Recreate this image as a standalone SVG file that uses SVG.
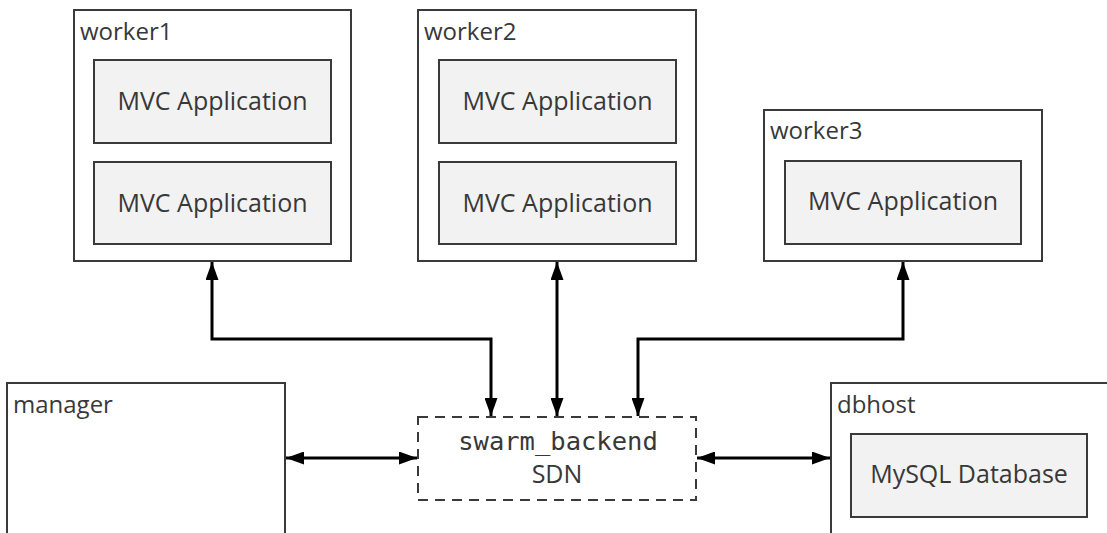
<svg xmlns="http://www.w3.org/2000/svg" width="1107" height="533" viewBox="0 0 1107 533">
<defs>
<style>
.host{fill:#fff;stroke:#3a3a3a;stroke-width:2}
.app{fill:#f2f2f2;stroke:#3a3a3a;stroke-width:2}
.lbl{font-family:"Open Sans","Noto Sans",sans-serif;font-size:24px;fill:#383838}
.app-t{font-family:"Open Sans","Noto Sans",sans-serif;font-size:25px;fill:#383838;text-anchor:middle}
.mono{font-family:"DejaVu Sans Mono",monospace;font-size:25.5px;fill:#383838;text-anchor:middle}
.conn{fill:none;stroke:#000;stroke-width:3}
</style>
<marker id="ah" viewBox="0 0 18 13" refX="18" refY="6.5" markerWidth="18" markerHeight="13" markerUnits="userSpaceOnUse" orient="auto-start-reverse">
<path d="M0,0 L18,6.5 L0,13 z" fill="#000"/>
</marker>
</defs>
<rect width="1107" height="533" fill="#fff"/>
<g id="worker1">
<rect class="host" x="74" y="10" width="277" height="251"/>
<text class="lbl" x="80" y="40">worker1</text>
<rect class="app" x="94" y="60" width="237" height="83"/>
<text class="app-t" x="212.5" y="110">MVC Application</text>
<rect class="app" x="94" y="162" width="237" height="82"/>
<text class="app-t" x="212.5" y="212">MVC Application</text>
</g>
<g id="worker2">
<rect class="host" x="418" y="10" width="278" height="251"/>
<text class="lbl" x="424" y="40">worker2</text>
<rect class="app" x="439" y="60" width="237" height="83"/>
<text class="app-t" x="557.5" y="110">MVC Application</text>
<rect class="app" x="439" y="162" width="237" height="82"/>
<text class="app-t" x="557.5" y="212">MVC Application</text>
</g>
<g id="worker3">
<rect class="host" x="764" y="110" width="278" height="151"/>
<text class="lbl" x="770" y="139">worker3</text>
<rect class="app" x="785" y="161" width="236" height="83"/>
<text class="app-t" x="903" y="210">MVC Application</text>
</g>
<g id="manager">
<rect class="host" x="7" y="383" width="278" height="160"/>
<text class="lbl" x="13" y="413">manager</text>
</g>
<g id="swarm_backend">
<rect x="418" y="417" width="278" height="83" fill="#fff" stroke="#3a3a3a" stroke-width="2" stroke-dasharray="10,7"/>
<text class="mono" x="558" y="450">swarm_backend</text>
<text class="app-t" x="557" y="483">SDN</text>
</g>
<g id="dbhost">
<rect class="host" x="831" y="383" width="285" height="160"/>
<text class="lbl" x="837" y="413">dbhost</text>
<rect class="app" x="851" y="434" width="236" height="83"/>
<text class="app-t" x="969" y="483">MySQL Database</text>
</g>
<g id="connectors">
<polyline class="conn" points="212,262 212,339 491,339 491,416" marker-start="url(#ah)" marker-end="url(#ah)"/>
<line class="conn" x1="557" y1="262" x2="557" y2="416" marker-start="url(#ah)" marker-end="url(#ah)"/>
<polyline class="conn" points="903,262 903,339 638,339 638,416" marker-start="url(#ah)" marker-end="url(#ah)"/>
<line class="conn" x1="286" y1="458" x2="417" y2="458" marker-start="url(#ah)" marker-end="url(#ah)"/>
<line class="conn" x1="697" y1="458" x2="830" y2="458" marker-start="url(#ah)" marker-end="url(#ah)"/>
</g>
</svg>
